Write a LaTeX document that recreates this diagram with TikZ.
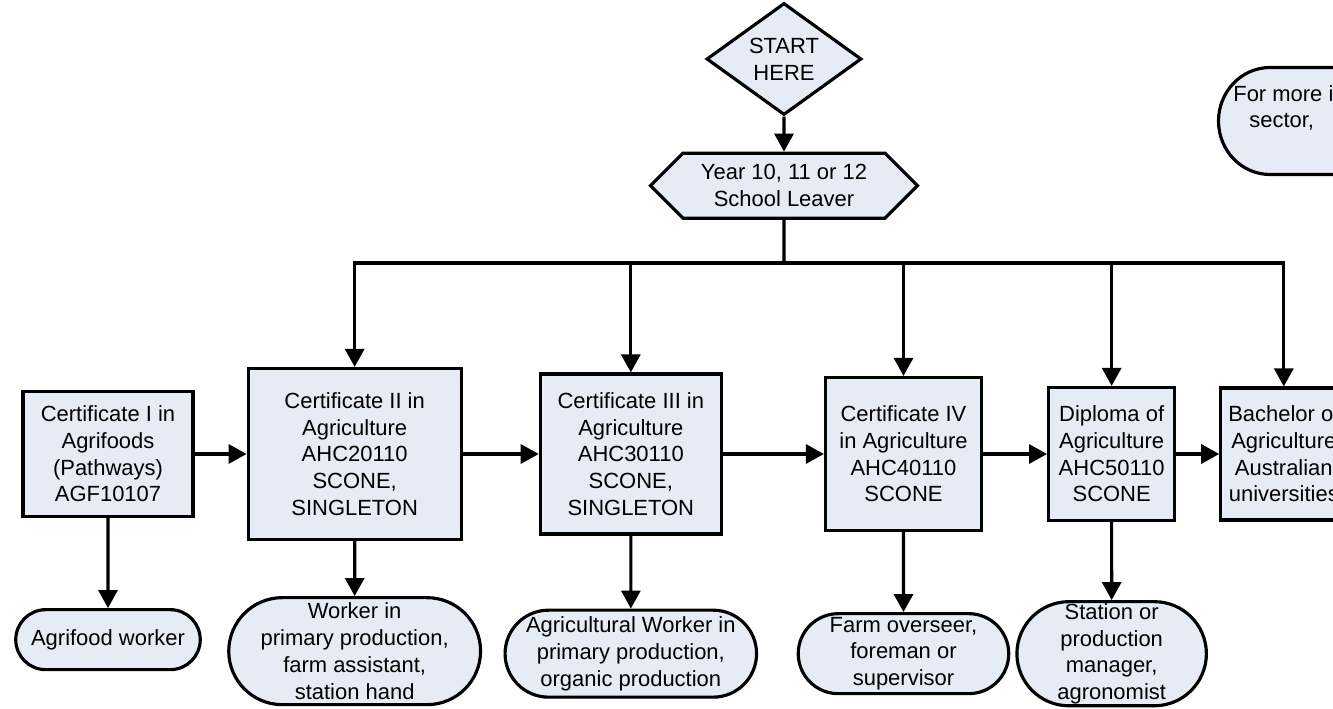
\documentclass[tikz,border=0pt]{standalone}
\usepackage{fontspec}
\setmainfont{Liberation Sans}
\usetikzlibrary{arrows.meta, positioning, shapes.geometric, shapes.misc, shapes.symbols}
\definecolor{relleno}{RGB}{230,236,246}

\begin{document}
\begin{tikzpicture}[
        node distance=1cm,
        every node/.style={font=\fontsize{12.5}{15.2}\selectfont},
        base/.style={draw, line width=1.8pt, fill=relleno, align=center, inner sep=1pt},
        curso/.style={base, rectangle},
        salida/.style={base, rounded rectangle},
        flecha/.style={-{Triangle[length=3.6mm, width=3.8mm]}, line width=1.8pt},
        linea/.style={line width=1.8pt}
    ]
        \useasboundingbox (0,0) rectangle (26.66,-14.18);
        % inicio
        \node[base, diamond, minimum width=3.1cm, minimum height=2.1cm, inner sep=0pt] (a) at (15.68,-1.18) {START\\HERE};
        \node[base, signal, signal to=west and east, minimum width=5.34cm, minimum height=1.3cm, below=0.7cm of a] (b) {Year 10, 11 or 12\\School Leaver};
        % cursos
        \node[curso, minimum width=3.4cm, minimum height=2.5cm] (c) at (2.16,-9.08) {Certificate I in\\Agrifoods\\(Pathways)\\AGF10107};
        \node[curso, minimum width=4.26cm, minimum height=3.42cm, right=1.04cm of c] (d) {Certificate II in\\Agriculture\\AHC20110\\SCONE,\\SINGLETON};
        \node[curso, minimum width=3.62cm, minimum height=3.2cm, right=1.52cm of d] (e) {Certificate III in\\Agriculture\\AHC30110\\SCONE,\\SINGLETON};
        \node[curso, minimum width=3.12cm, minimum height=3.06cm, right=2.02cm of e] (f) {Certificate IV\\in Agriculture\\AHC40110\\SCONE};
        \node[curso, minimum width=2.52cm, minimum height=2.66cm, right=1.28cm of f] (g) {Diploma of\\Agriculture\\AHC50110\\SCONE};
        \node[curso, minimum width=2.52cm, minimum height=2.64cm, right=0.86cm of g] (h) {Bachelor of\\Agriculture\\Australian\\universities};
        % salidas
        \node[salida, minimum width=3.76cm, minimum height=1.2cm, below=1.8cm of c] (i) {Agrifood worker};
        \node[salida, minimum width=4.42cm, minimum height=2.14cm, below=1.1cm of d] (j) {Worker in\\primary production,\\farm assistant,\\station hand};
        \node[salida, minimum width=5.1cm, minimum height=1.74cm, below=1.46cm of e] (k) {Agricultural Worker in\\primary production,\\organic production};
        \node[salida, minimum width=4.28cm, minimum height=1.6cm, below=1.6cm of f] (l) {Farm overseer,\\foreman or\\supervisor};
        \node[salida, minimum width=3.54cm, minimum height=2.08cm, below=1.56cm of g] (m) {Station or\\production\\manager,\\agronomist};
        % mas informacion
        \draw[base] (27.2,-1.35) -- (25.4,-1.35) arc[start angle=90, end angle=270, x radius=1.03, y radius=1.07] -- (27.2,-3.49) -- cycle;
        \node[anchor=north west, align=left, inner sep=0pt] (info) at (24.66,-1.70) {For more i\\\hspace*{0.32cm}sector,};
        % conexiones
        \coordinate (bus) at (0,-5.26);
        \draw[flecha] (a) -- (b);
        \draw[linea] (b) -- (b |- bus);
        \draw[flecha] (h |- bus) -| (d);
        \draw[flecha] (d |- bus) -| (h);
        \foreach \n in {e,f,g}
            \draw[flecha] (\n |- bus) -- (\n);
        \draw[flecha] (c) -- (d);
        \draw[flecha] (d) -- (e);
        \draw[flecha] (e) -- (f);
        \draw[flecha] (f) -- (g);
        \draw[flecha] (g) -- (h);
        \draw[flecha] (c) -- (i);
        \draw[flecha] (d) -- (j);
        \draw[flecha] (e) -- (k);
        \draw[flecha] (f) -- (l);
        \draw[flecha] (g) -- (m);
    \end{tikzpicture}
\end{document}
